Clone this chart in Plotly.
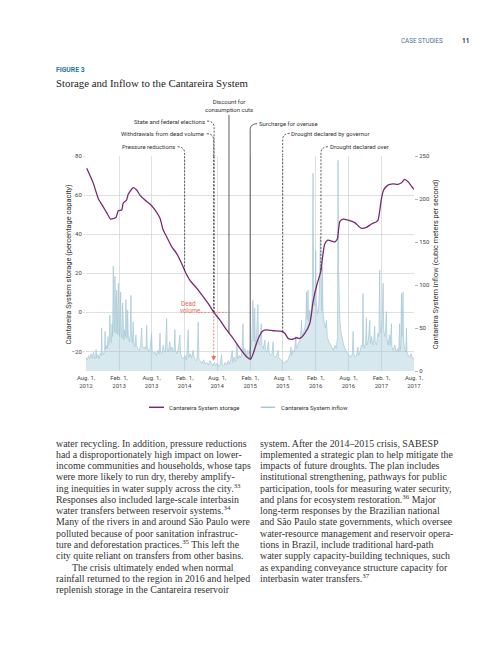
import numpy as np
import pandas as pd
import plotly.graph_objects as go

# ---------------- data ----------------
storage_dates = [
    "2012-08-05", "2012-09-11", "2012-10-08", "2012-11-05", "2012-11-24", "2012-12-16",
    "2013-01-04", "2013-01-15", "2013-01-28", "2013-02-16", "2013-02-24", "2013-03-15",
    "2013-03-24", "2013-04-21", "2013-05-10", "2013-05-28", "2013-06-25", "2013-07-23",
    "2013-08-20", "2013-09-17", "2013-10-05", "2013-10-24", "2013-11-21", "2013-12-18",
    "2014-01-15", "2014-02-07", "2014-03-02", "2014-04-18", "2014-05-15", "2014-06-12",
    "2014-07-14", "2014-08-16", "2014-09-23", "2014-10-29", "2014-12-06", "2015-01-12",
    "2015-02-03", "2015-02-18", "2015-03-08", "2015-03-27", "2015-04-14", "2015-05-03",
    "2015-06-09", "2015-07-25", "2015-08-13", "2015-08-31", "2015-09-19", "2015-10-17",
    "2015-11-04", "2015-12-02", "2015-12-30", "2016-01-18", "2016-02-07", "2016-02-29",
    "2016-03-11", "2016-03-22", "2016-04-08", "2016-04-30", "2016-05-17", "2016-05-31",
    "2016-06-14", "2016-07-02", "2016-07-30", "2016-09-05", "2016-10-12", "2016-11-09",
    "2016-12-07", "2017-01-04", "2017-01-13", "2017-02-01", "2017-02-13", "2017-03-09",
    "2017-04-06", "2017-05-04", "2017-05-23", "2017-06-10", "2017-06-29", "2017-07-18",
    "2017-08-01",
]
storage_values = [
    73.7, 66.0, 58.3, 54.0, 51.0, 47.7,
    48.1, 48.6, 52.0, 52.4, 55.8, 57.5,
    60.4, 63.8, 62.6, 60.0, 57.5, 55.4,
    52.4, 48.1, 42.1, 38.7, 33.6, 30.2,
    25.1, 20.3, 16.5, 11.4, 8.0, 4.6,
    0.0, -3.9, -9.0, -13.3, -18.4, -22.7,
    -24.0, -21.0, -15.9, -11.6, -9.4, -9.0,
    -9.4, -9.7, -10.7, -13.3, -13.8, -13.0,
    -13.3, -10.7, -5.6, 6.0, 14.0, 21.0,
    29.0, 35.0, 37.0, 36.5, 36.0, 37.5,
    46.4, 47.7, 47.2, 45.9, 43.0, 43.5,
    45.2, 46.4, 47.2, 58.3, 62.6, 65.1,
    65.7, 65.5, 66.3, 68.0, 66.8, 64.6,
    62.9,
]

inflow_dates = [
    "2012-08-01", "2012-08-08", "2012-08-15", "2012-08-22", "2012-08-29", "2012-09-05",
    "2012-09-12", "2012-09-19", "2012-09-24", "2012-09-26", "2012-09-29", "2012-10-06",
    "2012-10-13", "2012-10-20", "2012-10-25", "2012-10-27", "2012-10-30", "2012-11-06",
    "2012-11-13", "2012-11-15", "2012-11-18", "2012-11-24", "2012-11-29", "2012-12-01",
    "2012-12-04", "2012-12-09", "2012-12-12", "2012-12-15", "2012-12-20", "2012-12-24",
    "2012-12-27", "2012-12-31", "2013-01-03", "2013-01-06", "2013-01-09", "2013-01-12",
    "2013-01-16", "2013-01-19", "2013-01-22", "2013-01-25", "2013-01-28", "2013-01-31",
    "2013-02-04", "2013-02-07", "2013-02-10", "2013-02-13", "2013-02-17", "2013-02-21",
    "2013-02-24", "2013-02-28", "2013-03-04", "2013-03-08", "2013-03-11", "2013-03-14",
    "2013-03-18", "2013-03-21", "2013-03-24", "2013-03-30", "2013-04-04", "2013-04-08",
    "2013-04-11", "2013-04-16", "2013-04-21", "2013-04-24", "2013-04-30", "2013-05-06",
    "2013-05-09", "2013-05-17", "2013-05-25", "2013-06-01", "2013-06-07", "2013-06-10",
    "2013-06-18", "2013-06-25", "2013-07-01", "2013-07-05", "2013-07-08", "2013-07-15",
    "2013-07-24", "2013-08-01", "2013-08-04", "2013-08-12", "2013-08-20", "2013-08-28",
    "2013-09-05", "2013-09-12", "2013-09-17", "2013-09-20", "2013-09-28", "2013-10-05",
    "2013-10-10", "2013-10-17", "2013-10-24", "2013-10-27", "2013-11-03", "2013-11-10",
    "2013-11-15", "2013-11-22", "2013-11-30", "2013-12-05", "2013-12-09", "2013-12-12",
    "2013-12-20", "2013-12-28", "2014-01-06", "2014-01-09", "2014-01-17", "2014-01-26",
    "2014-02-03", "2014-02-12", "2014-02-21", "2014-02-24", "2014-03-04", "2014-03-12",
    "2014-03-20", "2014-03-28", "2014-04-05", "2014-04-12", "2014-04-18", "2014-04-21",
    "2014-04-30", "2014-05-09", "2014-05-18", "2014-05-27", "2014-06-05", "2014-06-14",
    "2014-06-22", "2014-06-30", "2014-07-08", "2014-07-16", "2014-07-24", "2014-08-01",
    "2014-08-10", "2014-08-18", "2014-08-26", "2014-08-29", "2014-09-06", "2014-09-15",
    "2014-09-23", "2014-10-01", "2014-10-09", "2014-10-17", "2014-10-24", "2014-10-27",
    "2014-11-04", "2014-11-12", "2014-11-20", "2014-11-23", "2014-12-01", "2014-12-09",
    "2014-12-17", "2014-12-23", "2014-12-26", "2015-01-03", "2015-01-11", "2015-01-19",
    "2015-01-27", "2015-02-04", "2015-02-10", "2015-02-16", "2015-02-19", "2015-02-23",
    "2015-02-26", "2015-03-01", "2015-03-06", "2015-03-10", "2015-03-16", "2015-03-19",
    "2015-03-26", "2015-04-04", "2015-04-07", "2015-04-15", "2015-04-24", "2015-04-27",
    "2015-05-05", "2015-05-14", "2015-05-17", "2015-05-25", "2015-06-02", "2015-06-09",
    "2015-06-12", "2015-06-20", "2015-06-28", "2015-07-06", "2015-07-10", "2015-07-18",
    "2015-07-26", "2015-08-03", "2015-08-11", "2015-08-19", "2015-08-27", "2015-09-04",
    "2015-09-12", "2015-09-16", "2015-09-19", "2015-09-27", "2015-10-05", "2015-10-13",
    "2015-10-16", "2015-10-24", "2015-11-01", "2015-11-08", "2015-11-14", "2015-11-17",
    "2015-11-24", "2015-12-02", "2015-12-08", "2015-12-12", "2015-12-15", "2015-12-20",
    "2015-12-23", "2015-12-30", "2016-01-02", "2016-01-08", "2016-01-13", "2016-01-17",
    "2016-01-20", "2016-01-24", "2016-01-28", "2016-02-01", "2016-02-04", "2016-02-10",
    "2016-02-16", "2016-02-21", "2016-02-27", "2016-03-01", "2016-03-05", "2016-03-09",
    "2016-03-12", "2016-03-18", "2016-03-25", "2016-04-01", "2016-04-05", "2016-04-14",
    "2016-04-23", "2016-05-01", "2016-05-10", "2016-05-18", "2016-05-26", "2016-06-01",
    "2016-06-04", "2016-06-07", "2016-06-10", "2016-06-14", "2016-06-20", "2016-06-28",
    "2016-07-06", "2016-07-14", "2016-07-22", "2016-07-30", "2016-08-07", "2016-08-15",
    "2016-08-23", "2016-08-27", "2016-08-30", "2016-09-07", "2016-09-15", "2016-09-23",
    "2016-09-26", "2016-10-04", "2016-10-12", "2016-10-18", "2016-10-21", "2016-10-24",
    "2016-10-30", "2016-11-05", "2016-11-09", "2016-11-12", "2016-11-20", "2016-11-28",
    "2016-12-01", "2016-12-08", "2016-12-14", "2016-12-20", "2016-12-25", "2016-12-28",
    "2017-01-04", "2017-01-12", "2017-01-18", "2017-01-22", "2017-01-25", "2017-01-30",
    "2017-02-04", "2017-02-10", "2017-02-13", "2017-02-19", "2017-02-24", "2017-02-28",
    "2017-03-03", "2017-03-10", "2017-03-17", "2017-03-22", "2017-03-28", "2017-03-31",
    "2017-04-08", "2017-04-16", "2017-04-24", "2017-05-02", "2017-05-08", "2017-05-13",
    "2017-05-16", "2017-05-20", "2017-05-23", "2017-05-26", "2017-06-01", "2017-06-04",
    "2017-06-10", "2017-06-16", "2017-06-20", "2017-06-23", "2017-06-30", "2017-07-08",
    "2017-07-16", "2017-07-24", "2017-08-01",
]
inflow_values = [
    16, 13, 18, 14, 20, 15,
    22, 14, 16, 25, 15, 19,
    14, 21, 18, 50, 22, 19,
    24, 46, 25, 30, 26, 40,
    30, 35, 65, 38, 33, 55,
    40, 122, 60, 45, 110, 55,
    44, 94, 50, 42, 102, 52,
    40, 56, 92, 45, 38, 79,
    44, 36, 48, 40, 83, 46,
    38, 71, 42, 34, 40, 88,
    42, 33, 57, 34, 28, 42,
    30, 26, 24, 30, 50, 30,
    26, 28, 25, 53, 28, 23,
    26, 44, 24, 20, 22, 18,
    24, 20, 44, 22, 20, 30,
    24, 22, 61, 26, 22, 34,
    24, 28, 22, 26, 48, 24,
    20, 26, 42, 20, 16, 14,
    18, 13, 48, 16, 20, 15,
    24, 14, 12, 16, 57, 14,
    11, 9, 13, 8, 10, 7,
    12, 8, 6, 10, 6, 9,
    5, 8, 19, 7, 6, 10,
    7, 12, 8, 14, 24, 10,
    16, 11, 32, 14, 18, 15,
    22, 55, 20, 26, 18, 24,
    20, 30, 36, 82, 40, 34,
    73, 38, 30, 44, 77, 36,
    30, 55, 30, 26, 36, 24,
    22, 34, 22, 18, 20, 34,
    18, 16, 18, 24, 15, 14,
    12, 10, 9, 12, 11, 16,
    20, 28, 18, 24, 22, 40,
    26, 30, 34, 38, 59, 40,
    44, 50, 58, 92, 60, 94,
    58, 71, 60, 66, 90, 230,
    100, 76, 88, 140, 80, 66,
    72, 90, 156, 80, 70, 121,
    70, 58, 50, 59, 40, 34,
    30, 28, 24, 30, 26, 40,
    245, 120, 80, 60, 46, 36,
    30, 26, 22, 19, 18, 16,
    20, 46, 20, 16, 18, 28,
    18, 22, 30, 28, 90, 32,
    26, 34, 62, 30, 36, 59,
    32, 40, 30, 36, 52, 34,
    30, 44, 40, 117, 50, 44,
    56, 102, 48, 40, 46, 69,
    38, 30, 42, 30, 55, 28,
    24, 30, 22, 26, 22, 55,
    24, 30, 90, 40, 92, 36,
    26, 22, 50, 22, 18, 16,
    20, 14, 15,
]

x_tick_dates = ["2012-08-01", "2013-02-01", "2013-08-01", "2014-02-01", "2014-08-01", "2015-02-01",
                "2015-08-01", "2016-02-01", "2016-08-01", "2017-02-01", "2017-08-01"]
x_tick_labels = ["Aug. 1,<br>2012", "Feb. 1,<br>2013", "Aug. 1,<br>2013", "Feb. 1,<br>2014",
                 "Aug. 1,<br>2014", "Feb. 1,<br>2015", "Aug. 1,<br>2015", "Feb. 1,<br>2016",
                 "Aug. 1,<br>2016", "Feb. 1,<br>2017", "Aug. 1,<br>2017"]
storage_ticks = [-20, 0, 20, 40, 60, 80]
inflow_ticks = [0, 50, 100, 150, 200, 250]

event_labels = ["Pressure reductions", "Withdrawals from dead volume", "State and federal elections",
                "Discount for<br>consumption cuts", "Surcharge for overuse",
                "Drought declared by governor", "Drought declared over"]
event_dates = ["2014-02-01", "2014-07-13", "2014-07-15", "2014-10-06", "2015-02-01",
               "2015-08-01", "2016-03-01"]
dead_volume_date = "2014-07-13"

left_col = [
    "water recycling. In addition, pressure reductions",
    "had a disproportionately high impact on lower-",
    "income communities and households, whose taps",
    "were more likely to run dry, thereby amplify-",
    "ing inequities in water supply across the city.<sup>33</sup>",
    "Responses also included large-scale interbasin",
    "water transfers between reservoir systems.<sup>34</sup>",
    "Many of the rivers in and around São Paulo were",
    "polluted because of poor sanitation infrastruc-",
    "ture and deforestation practices.<sup>35</sup> This left the",
    "city quite reliant on transfers from other basins.",
    "The crisis ultimately ended when normal",
    "rainfall returned to the region in 2016 and helped",
    "replenish storage in the Cantareira reservoir",
]
right_col = [
    "system. After the 2014–2015 crisis, SABESP",
    "implemented a strategic plan to help mitigate the",
    "impacts of future droughts. The plan includes",
    "institutional strengthening, pathways for public",
    "participation, tools for measuring water security,",
    "and plans for ecosystem restoration.<sup>36</sup> Major",
    "long-term responses by the Brazilian national",
    "and São Paulo state governments, which oversee",
    "water-resource management and reservoir opera-",
    "tions in Brazil, include traditional hard-path",
    "water supply capacity-building techniques, such",
    "as expanding conveyance structure capacity for",
    "interbasin water transfers.<sup>37</sup>",
]

# ---------------- styling / layout ----------------
W, H = 500, 647
PL, PR, PT, PB = 86, 414, 156, 371
SANS = "Roboto, Arial, sans-serif"
SERIF = "Liberation Serif, Times New Roman, serif"
PURPLE = "#7a2a72"
BLUE_LINE = "#a3c7d6"
BLUE_FILL = "rgba(150,195,212,0.38)"
GRID = "#d2d2d2"
RED = "#e4695a"
DARK = "#333333"


def fx(x):
    return (x - PL) / (PR - PL)


def fy(y):
    return (PB - y) / (PB - PT)


fig = go.Figure()
fig.add_trace(go.Scatter(
    x=inflow_dates, y=inflow_values, yaxis="y", mode="lines",
    line=dict(color=BLUE_LINE, width=0.7), fill="tozeroy", fillcolor=BLUE_FILL,
    name="Cantareira System inflow", showlegend=False, hoverinfo="skip"))
fig.add_trace(go.Scatter(
    x=storage_dates, y=storage_values, yaxis="y2", mode="lines",
    line=dict(color=PURPLE, width=1.3, shape="spline", smoothing=0.6),
    name="Cantareira System storage", showlegend=False, hoverinfo="skip"))

shapes = []
annotations = []

s_t = pd.to_datetime(storage_dates).astype("int64").to_numpy()


def storage_at(d):
    return float(np.interp(pd.Timestamp(d).value, s_t, storage_values))


# (side, label height above plot top in px, dashed?)
event_layout = [("left", 9.3, True), ("left", 22.3, True), ("left", 35.0, True),
                ("center", 50.5, False), ("right", 32.3, False), ("right", 22.7, True),
                ("right", 9.3, True)]
for label, d, (side, h, dashed) in zip(event_labels, event_dates, event_layout):
    sv = storage_at(d)
    dline = dict(color=DARK, width=0.8, dash="2px,1.5px" if dashed else "solid")
    shapes.append(dict(type="line", xref="x", yref="y2", x0=d, x1=d, y0=sv, y1=80, line=dline))
    if side == "left":
        path = f"M -7,{h} C -3,{h} 0,{h-2} 0,{h-6} L 0,0"
        annotations.append(dict(xref="x", x=d, xanchor="right", xshift=-8.3, yref="paper", y=1,
                                yanchor="middle", yshift=h, text=label, showarrow=False,
                                font=dict(family=SANS, size=6, color=DARK), borderpad=0))
    elif side == "right":
        path = f"M 7,{h} C 3,{h} 0,{h-2} 0,{h-6} L 0,0"
        annotations.append(dict(xref="x", x=d, xanchor="left", xshift=7.6, yref="paper", y=1,
                                yanchor="middle", yshift=h, text=label, showarrow=False,
                                font=dict(family=SANS, size=6, color=DARK), borderpad=0))
    else:
        path = "M 0,41 L 0,0"
        annotations.append(dict(xref="x", x=d, xanchor="center", yref="paper", y=1,
                                yanchor="middle", yshift=h, text=label, showarrow=False,
                                font=dict(family=SANS, size=6, color=DARK), borderpad=0))
    shapes.append(dict(type="path", xref="x", xsizemode="pixel", xanchor=d,
                       yref="paper", ysizemode="pixel", yanchor=1, path=path, line=dline))

# dead volume marker
rline = dict(color=RED, width=0.8, dash="2px,1.5px")
shapes.append(dict(type="line", xref="x", xsizemode="pixel", xanchor=dead_volume_date,
                   x0=-13, x1=13, yref="y2", y0=0, y1=0, line=rline))
shapes.append(dict(type="line", xref="x", x0=dead_volume_date, x1=dead_volume_date,
                   yref="y2", y0=0, y1=-23.0, line=rline))
shapes.append(dict(type="path", xref="x", xsizemode="pixel", xanchor=dead_volume_date,
                   yref="y2", ysizemode="pixel", yanchor=-24.3, path="M -2,3.5 L 2,3.5 L 0,-0.5 Z",
                   fillcolor=RED, line=dict(color=RED, width=0.5)))
annotations.append(dict(xref="x", x=dead_volume_date, xanchor="left", xshift=-34, yref="y2", y=0,
                        yanchor="middle", yshift=8, text="Dead", showarrow=False, borderpad=0,
                        font=dict(family=SANS, size=6.3, color=RED)))
annotations.append(dict(xref="x", x=dead_volume_date, xanchor="left", xshift=-34.7, yref="y2", y=0,
                        yanchor="middle", yshift=1.6, text="volume", showarrow=False, borderpad=0,
                        font=dict(family=SANS, size=6.3, color=RED)))

# axis titles
annotations.append(dict(xref="paper", yref="paper", x=fx(61), y=fy(264), textangle=-90,
                        text="Cantareira System storage (percentage capacity)", showarrow=False,
                        font=dict(family=SANS, size=7.4, color=DARK)))
annotations.append(dict(xref="paper", yref="paper", x=fx(441.7), y=fy(264), textangle=-90,
                        text="Cantareira System inflow (cubic meters per second)", showarrow=False,
                        font=dict(family=SANS, size=7.4, color=DARK)))

# legend (manual)
legend_items = [("Cantareira System storage", PURPLE, 149, 164, 168),
                ("Cantareira System inflow", BLUE_LINE, 260.7, 275, 280)]
for name, col, x0, x1, xt in legend_items:
    shapes.append(dict(type="line", xref="paper", yref="paper", x0=fx(x0), x1=fx(x1),
                       y0=fy(407.3), y1=fy(407.3), line=dict(color=col, width=1.5)))
    annotations.append(dict(xref="paper", yref="paper", x=fx(xt), y=fy(407.3), xanchor="left",
                            yanchor="middle", text=name, showarrow=False, borderpad=0,
                            font=dict(family=SANS, size=6, color=DARK)))

# header
annotations += [
    dict(xref="paper", yref="paper", x=fx(400), y=fy(40.7), xanchor="left", yanchor="middle",
         text="CASE STUDIES", showarrow=False, borderpad=0,
         font=dict(family=SANS, size=6.3, color="#4a7393")),
    dict(xref="paper", yref="paper", x=fx(461), y=fy(40.7), xanchor="left", yanchor="middle",
         text="<b>11</b>", showarrow=False, borderpad=0,
         font=dict(family=SANS, size=6.5, color="#1d3d5e")),
    dict(xref="paper", yref="paper", x=fx(55), y=fy(70.3), xanchor="left", yanchor="middle",
         text="<b>FIGURE 3</b>", showarrow=False, borderpad=0,
         font=dict(family=SANS, size=6.8, color="#2a74a8")),
    dict(xref="paper", yref="paper", x=fx(55), y=fy(83.3), xanchor="left", yanchor="middle",
         text="Storage and Inflow to the Cantareira System", showarrow=False, borderpad=0,
         font=dict(family=SERIF, size=10.8, color="#222222")),
]

# body text
LINE_H = 11.28
for i, line in enumerate(left_col):
    xl = 70.7 if i == 11 else 55
    annotations.append(dict(xref="paper", yref="paper", x=fx(xl), y=fy(444 + i * LINE_H + 5.5),
                            xanchor="left", yanchor="bottom", text=line, showarrow=False,
                            borderpad=0, font=dict(family=SERIF, size=9.9, color=DARK)))
for i, line in enumerate(right_col):
    annotations.append(dict(xref="paper", yref="paper", x=fx(259.3), y=fy(444 + i * LINE_H + 5.5),
                            xanchor="left", yanchor="bottom", text=line, showarrow=False,
                            borderpad=0, font=dict(family=SERIF, size=9.9, color=DARK)))

fig.update_layout(
    width=W, height=H, autosize=False,
    margin=dict(l=PL, r=W - PR, t=PT, b=H - PB, pad=0),
    paper_bgcolor="white", plot_bgcolor="white",
    showlegend=False,
    xaxis=dict(type="date", range=["2012-08-01", "2017-08-01"], tickvals=x_tick_dates,
               ticktext=x_tick_labels, showgrid=True, gridcolor=GRID, gridwidth=0.7,
               zeroline=False, showline=False, ticks="", ticklabelstandoff=2,
               tickfont=dict(family=SANS, size=6, color="#444444")),
    yaxis=dict(side="right", range=[0, 250], tickvals=inflow_ticks, showgrid=False,
               zeroline=False, showline=False, ticks="outside", ticklen=3, tickcolor="#999999",
               tickwidth=0.7, tickfont=dict(family=SANS, size=6, color="#444444")),
    yaxis2=dict(overlaying="y", side="left", range=[-30, 80], tickvals=storage_ticks,
                showgrid=True, gridcolor=GRID, gridwidth=0.7, zeroline=False, showline=False,
                ticks="outside", ticklen=2, tickcolor=GRID, tickwidth=0.7,
                tickfont=dict(family=SANS, size=6, color="#444444")),
    shapes=shapes,
    annotations=annotations,
)

fig.write_html("out.html",
               config={"displayModeBar": False, "staticPlot": True},
               post_script="document.body.style.margin='0px';document.body.style.overflow='hidden';")
